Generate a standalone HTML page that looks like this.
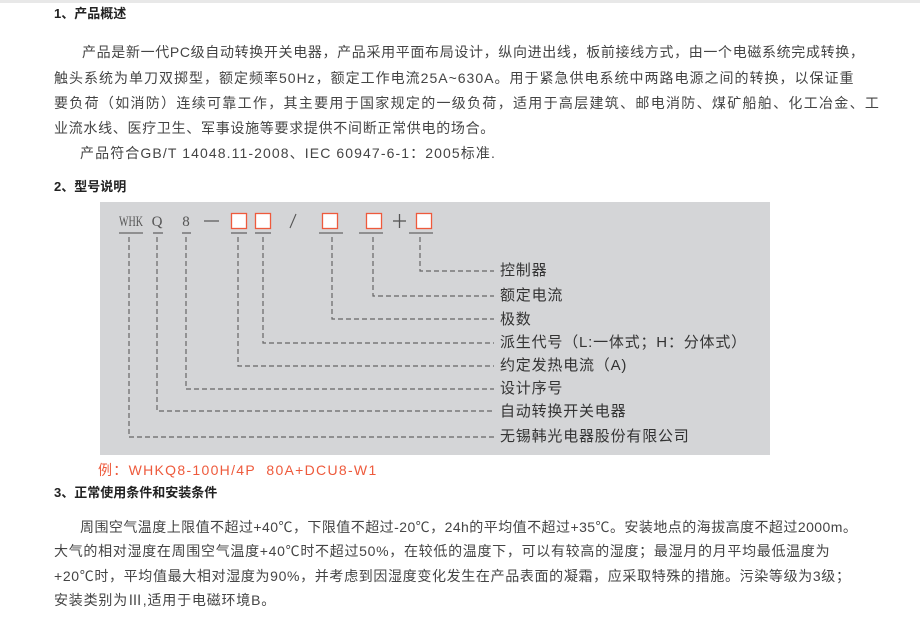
<!DOCTYPE html>
<html><head><meta charset="utf-8"><style>
body{margin:0;width:920px;height:618px;background:#fff;position:relative;overflow:hidden;font-family:"Liberation Sans","Noto Sans CJK SC",sans-serif;color:#444;}
.t{position:absolute;white-space:nowrap;font-size:14px;line-height:18px;}
.p1{letter-spacing:1px}
.p3{letter-spacing:0.6px}
.l{position:absolute;white-space:nowrap;font-size:15px;line-height:18px;letter-spacing:0.8px;color:#333}
.h{position:absolute;white-space:nowrap;font-size:13px;font-weight:bold;color:#222;line-height:18px;}
#box{position:absolute;left:100px;top:202px;width:670px;height:253px;background:#d4d5d7;}
</style></head><body>
<div style="position:absolute;left:0;top:0;width:920px;height:3px;background:#e8e8e8"></div>
<div class="h" style="left:54px;top:5px">1、产品概述</div>
<div class="t p1" style="left:82px;top:43px;letter-spacing:0.65px">产品是新一代PC级自动转换开关电器，产品采用平面布局设计，纵向进出线，板前接线方式，由一个电磁系统完成转换，</div>
<div class="t p1" style="left:54px;top:69px">触头系统为单刀双掷型，额定频率50Hz，额定工作电流25A~630A。用于紧急供电系统中两路电源之间的转换，以保证重</div>
<div class="t p1" style="left:54px;top:94px;letter-spacing:1.3px">要负荷（如消防）连续可靠工作，其主要用于国家规定的一级负荷，适用于高层建筑、邮电消防、煤矿船舶、化工冶金、工</div>
<div class="t p1" style="left:54px;top:119px;letter-spacing:0.7px">业流水线、医疗卫生、军事设施等要求提供不间断正常供电的场合。</div>
<div class="t p1" style="left:80px;top:144px;letter-spacing:1.1px">产品符合GB/T 14048.11-2008、IEC 60947-6-1：2005标准.</div>
<div class="h" style="left:54px;top:178px">2、型号说明</div>
<div id="box"></div>
<svg style="position:absolute;left:0;top:0" width="920" height="618">
<g font-family="Liberation Serif,serif" font-size="15" fill="#555">
<text x="131" y="226" text-anchor="middle" textLength="24" lengthAdjust="spacingAndGlyphs">WHK</text><text x="157" y="226" text-anchor="middle">Q</text><text x="186" y="226" text-anchor="middle">8</text>
</g>
<line x1="290" y1="228" x2="296" y2="214" stroke="#555" stroke-width="1.1"/>
<line x1="204" y1="221" x2="219" y2="221" stroke="#555" stroke-width="1.2"/>
<line x1="393" y1="221" x2="406" y2="221" stroke="#555" stroke-width="1.3"/><line x1="399.5" y1="214" x2="399.5" y2="228" stroke="#555" stroke-width="1.3"/>
<g fill="#fff" stroke="#ee5a3c" stroke-width="1.3">
<rect x="231.5" y="213.5" width="15" height="15"/><rect x="255.5" y="213.5" width="15" height="15"/>
<rect x="322.5" y="213.5" width="15" height="15"/><rect x="366.5" y="213.5" width="15" height="15"/><rect x="416.5" y="213.5" width="15" height="15"/>
</g>
<g stroke="#666" stroke-width="1.3">
<line x1="119" y1="233" x2="143" y2="233"/><line x1="153" y1="233" x2="163" y2="233"/><line x1="182" y1="233" x2="191" y2="233"/>
<line x1="231" y1="233" x2="247" y2="233"/><line x1="255" y1="233" x2="271" y2="233"/><line x1="319" y1="233" x2="343" y2="233"/>
<line x1="359" y1="233" x2="383" y2="233"/><line x1="409" y1="233" x2="433" y2="233"/>
</g>
<g fill="none" stroke="#666" stroke-width="1.2" stroke-dasharray="5,3">
<polyline points="420,237 420,271 494,271"/>
<polyline points="373,237 373,296 494,296"/>
<polyline points="332,237 332,319 494,319"/>
<polyline points="263,237 263,343 494,343"/>
<polyline points="238,237 238,366 494,366"/>
<polyline points="186,237 186,389 494,389"/>
<polyline points="157,237 157,411 494,411"/>
<polyline points="129,237 129,437 494,437"/>
</g>
</svg>
<div class="l" style="left:500px;top:262px">控制器</div>
<div class="l" style="left:500px;top:287px">额定电流</div>
<div class="l" style="left:500px;top:311px">极数</div>
<div class="l" style="left:500px;top:334px">派生代号（L:一体式；H：分体式）</div>
<div class="l" style="left:500px;top:357px">约定发热电流（A)</div>
<div class="l" style="left:500px;top:380px">设计序号</div>
<div class="l" style="left:500px;top:403px">自动转换开关电器</div>
<div class="l" style="left:500px;top:428px">无锡韩光电器股份有限公司</div>
<div class="t" style="left:98px;top:461px;color:#ee5a3c;letter-spacing:1.3px">例：WHKQ8-100H/4P&nbsp; 80A+DCU8-W1</div>
<div class="h" style="left:54px;top:484px">3、正常使用条件和安装条件</div>
<div class="t p3" style="left:80px;top:518px;letter-spacing:0.45px">周围空气温度上限值不超过+40℃，下限值不超过-20℃，24h的平均值不超过+35℃。安装地点的海拔高度不超过2000m。</div>
<div class="t p3" style="left:54px;top:542px;letter-spacing:0.7px">大气的相对湿度在周围空气温度+40℃时不超过50%，在较低的温度下，可以有较高的湿度；最湿月的月平均最低温度为</div>
<div class="t p3" style="left:54px;top:567px;letter-spacing:0.65px">+20℃时，平均值最大相对湿度为90%，并考虑到因湿度变化发生在产品表面的凝霜，应采取特殊的措施。污染等级为3级；</div>
<div class="t p3" style="left:54px;top:591px;letter-spacing:0.8px">安装类别为Ⅲ,适用于电磁环境B。</div>
</body></html>
